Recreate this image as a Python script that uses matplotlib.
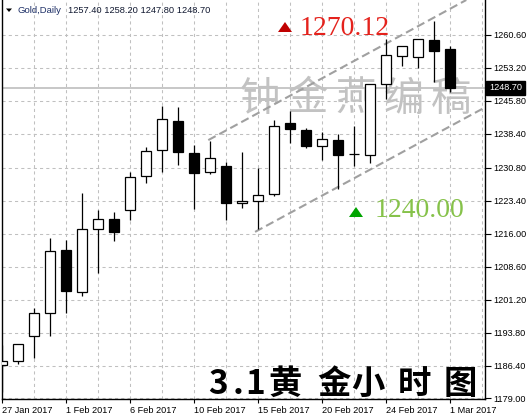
import matplotlib
matplotlib.use('Agg')
import matplotlib.pyplot as plt
from matplotlib.patches import Rectangle, Polygon
from matplotlib import transforms

# ---------------- data ----------------
opens  = [1186.5, 1187.35, 1193.0, 1198.1, 1212.3, 1203.0, 1217.0, 1219.2, 1221.2, 1228.9,
          1234.7, 1241.4, 1234.1, 1229.8, 1231.3, 1222.8, 1223.4, 1224.8, 1240.8, 1239.2,
          1235.6, 1237.0, 1233.9, 1233.7, 1249.5, 1255.8, 1255.6, 1259.5, 1257.4]
highs  = [1191.0, 1191.2, 1199.4, 1215.0, 1214.6, 1225.2, 1221.2, 1220.8, 1229.9, 1235.45,
          1244.7, 1244.4, 1235.9, 1236.8, 1232.1, 1234.3, 1230.7, 1241.5, 1243.6, 1239.7,
          1238.8, 1238.3, 1240.2, 1249.5, 1259.65, 1258.1, 1259.8, 1263.7, 1258.2]
lows   = [1180.5, 1186.7, 1188.2, 1193.0, 1198.3, 1202.1, 1207.1, 1214.4, 1219.0, 1227.4,
          1229.9, 1231.5, 1221.6, 1229.5, 1219.1, 1221.8, 1217.0, 1224.45, 1236.4, 1235.3,
          1232.6, 1226.1, 1231.1, 1231.8, 1246.2, 1253.7, 1253.25, 1250.1, 1247.8]
closes = [1187.4, 1191.2, 1198.1, 1212.0, 1203.2, 1217.0, 1219.2, 1216.4, 1228.65, 1234.5,
          1241.7, 1234.4, 1229.7, 1232.9, 1222.95, 1223.4, 1224.6, 1240.2, 1239.4, 1235.75,
          1237.2, 1233.7, 1233.9, 1249.5, 1256.0, 1258.1, 1259.6, 1257.1, 1248.7]

xtick_pos = [0, 4, 8, 12, 16, 20, 24, 28]
xtick_labels = ['27 Jan 2017', '1 Feb 2017', '6 Feb 2017', '10 Feb 2017',
                '15 Feb 2017', '20 Feb 2017', '24 Feb 2017', '1 Mar 2017']
ytick_vals = [1179.00, 1186.40, 1193.80, 1201.20, 1208.60, 1216.00,
              1223.40, 1230.80, 1238.40, 1245.80, 1253.20, 1260.60]
vgrid_pos = [2, 4, 6, 8, 10, 12, 14, 16, 18, 20, 22, 24, 26, 28, 30]

last_price = 1248.70
header_symbol = 'Gold,Daily'
header_vals = [1257.40, 1258.20, 1247.80, 1248.70]

upper_x = [12.875, 29.0]
upper_y = [1237.0, 1268.45]
lower_x = [15.8, 30.2]
lower_y = [1216.4, 1244.4]

target_high = 1270.12
target_low = 1240.00
watermark = '钟金燕编稿'
title_cn = ['3', '.', '1', '黄', '金', '小', '时', '图']

# ---------------- figure ----------------
W, H = 530, 420
plt.rcParams['font.family'] = ['Liberation Sans', 'Noto Sans CJK SC', 'DejaVu Sans']
fig = plt.figure(figsize=(W / 100, H / 100), dpi=100)
fig.patch.set_facecolor('white')

ax_bottom_px = 399.3
ax_left_px, ax_right_px = 1.5, 485.0
ax = fig.add_axes([ax_left_px / W, (H - ax_bottom_px) / H,
                   (ax_right_px - ax_left_px) / W, ax_bottom_px / H])
ax.set_facecolor('white')

def fx(x):
    return x / W

def fy(y):
    return 1 - y / H

# grid
grid_kw = dict(color='#c0c0c0', lw=0.75, linestyle=(0, (3, 3)), zorder=0.5)
for v in ytick_vals:
    ax.axhline(v, **grid_kw)
for g in vgrid_pos:
    ax.axvline(g, **grid_kw)

# current price line
ax.axhline(last_price, color='#b8b8b8', lw=1.1, zorder=0.8)

# watermark
for k, ch in enumerate(watermark):
    ax.text(fx(260 + 47.7 * k), fy(99), ch, transform=fig.transFigure,
            ha='center', va='center', fontsize=29, color='#c2c2c2',
            family='Noto Sans CJK SC', zorder=1)

# channel lines
ax.plot(upper_x, upper_y, color='#a0a0a0', lw=1.5, linestyle=(0, (4, 2)), zorder=1.5)
ax.plot(lower_x, lower_y, color='#a0a0a0', lw=1.5, linestyle=(0, (4, 2)), zorder=1.5)

# candles
bw = 0.625
for i, (o, h, l, c) in enumerate(zip(opens, highs, lows, closes)):
    ax.vlines(i, l, h, color='black', lw=0.9, zorder=2)
    bull = c >= o
    ax.add_patch(Rectangle((i - bw / 2, min(o, c)), bw, abs(c - o),
                           facecolor='white' if bull else 'black',
                           edgecolor='black', lw=0.9, zorder=3))

ax.set_xlim(-0.05, 30.17)
ax.set_ylim(1178.82, 1268.45)

# axes styling
ax.spines['top'].set_visible(False)
for s in ['left', 'right', 'bottom']:
    ax.spines[s].set_color('black')
    ax.spines[s].set_linewidth(1.0)
ax.yaxis.tick_right()
ax.set_yticks(ytick_vals)
ax.set_yticklabels(['%.2f' % v for v in ytick_vals])
ax.set_xticks(xtick_pos)
ax.set_xticklabels(xtick_labels, ha='left')
ax.tick_params(axis='y', direction='out', length=4, width=0.8, pad=2,
               labelsize=6.6, colors='black')
ax.tick_params(axis='x', direction='out', length=3, width=0.8, pad=2,
               labelsize=6.6, colors='black')

# current price box
bt = transforms.blended_transform_factory(ax.transAxes, ax.transData)
ax.text(1.008, last_price, '%.2f' % last_price, transform=bt, ha='left', va='center',
        fontsize=6.6, color='white', zorder=10, clip_on=False,
        bbox=dict(boxstyle='square,pad=0.3', fc='black', ec='black'))

# header
hdr = Polygon([[fx(6), fy(8.5)], [fx(12), fy(8.5)], [fx(9), fy(12)]], closed=True,
              transform=fig.transFigure, facecolor='black', edgecolor='none', zorder=10)
ax.add_patch(hdr)
ax.text(fx(17), fy(13), header_symbol, transform=fig.transFigure, ha='left',
        va='baseline', fontsize=6.8, color='#1d2f66', zorder=10)
ax.text(fx(68), fy(13), ' '.join('%.2f' % v for v in header_vals), transform=fig.transFigure,
        ha='left', va='baseline', fontsize=6.7, color='#101830', zorder=10)

# target annotations
tri_r = Polygon([[fx(278), fy(32)], [fx(292), fy(32)], [fx(285), fy(22)]], closed=True,
                transform=fig.transFigure, facecolor='#c00000', edgecolor='none', zorder=10)
ax.add_patch(tri_r)
ax.text(fx(300), fy(35), '%.2f' % target_high, transform=fig.transFigure, ha='left',
        va='baseline', fontsize=20, color='#e4221c', family='Liberation Serif', zorder=10)

tri_g = Polygon([[fx(349), fy(217)], [fx(363), fy(217)], [fx(356), fy(207)]], closed=True,
                transform=fig.transFigure, facecolor='#00a400', edgecolor='none', zorder=10)
ax.add_patch(tri_g)
ax.text(fx(375), fy(217), '%.2f' % target_low, transform=fig.transFigure, ha='left',
        va='baseline', fontsize=20, color='#86c24a', family='Liberation Serif', zorder=10)

# bottom title
title_x = [218, 238, 255, 285, 334, 368, 414, 460]
for ch, xx in zip(title_cn, title_x):
    ax.text(fx(xx), fy(394), ch, transform=fig.transFigure, ha='center', va='baseline',
            fontsize=24, color='black', family='Noto Sans CJK SC', weight='bold', zorder=10)

fig.savefig('out.png', dpi=100, facecolor='white')
